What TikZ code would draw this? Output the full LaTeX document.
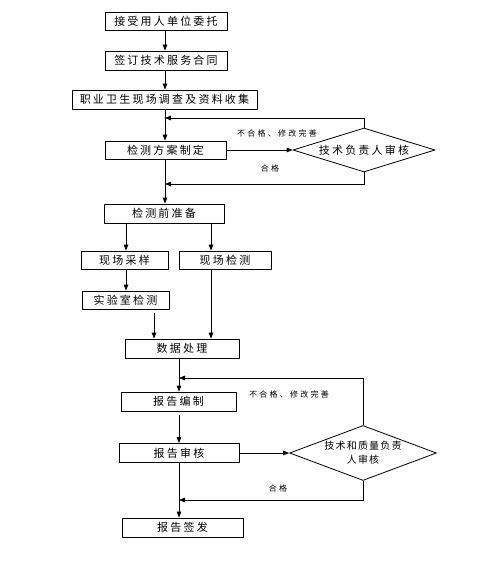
\documentclass[tikz,border=0pt]{standalone}
\usepackage{fontspec}
\newfontfamily\cjkbox[LetterSpace=20]{Noto Sans CJK SC}
\newfontfamily\cjkdia[LetterSpace=12]{Noto Sans CJK SC}
\newfontfamily\cjknote[LetterSpace=28]{Noto Sans CJK SC}
\usetikzlibrary{arrows.meta,shapes.geometric}

\tikzset{
	stepbox/.style={draw,line width=0.8pt,inner sep=0pt,font=\cjkbox\fontsize{11}{13}\selectfont},
	checkdia/.style={draw,diamond,aspect=3,line width=0.8pt,inner sep=0pt,align=center},
	arr/.style={line width=0.8pt,-{Triangle[length=6pt,width=4.5pt]}},
	note/.style={font=\cjknote\fontsize{8}{9}\selectfont}
}

\begin{document}
\begin{tikzpicture}[x=1pt,y=-1pt]
		\useasboundingbox (0,0) rectangle (477,572);
		% main column
		\node[stepbox,minimum width=122pt,minimum height=18pt] (entrust) at (166,21) {接受用人单位委托};
		\node[stepbox,minimum width=122pt,minimum height=19pt] (contract) at (166,60.5) {签订技术服务合同};
		\node[stepbox,minimum width=185pt,minimum height=19pt] (survey) at (164.5,99.5) {职业卫生现场调查及资料收集};
		\node[stepbox,minimum width=121pt,minimum height=18pt] (plan) at (165.5,150) {检测方案制定};
		\node[checkdia,minimum width=142pt,minimum height=44pt,font=\cjkbox\fontsize{11}{13}\selectfont] (techcheck) at (364,150) {技术负责人审核};
		\node[stepbox,minimum width=120pt,minimum height=19pt] (prepare) at (164,213.5) {检测前准备};
		% two branches
		\node[stepbox,minimum width=87pt,minimum height=18pt] (sampling) at (124.5,260) {现场采样};
		\node[stepbox,minimum width=92pt,minimum height=18pt] (onsite) at (225,260) {现场检测};
		\node[stepbox,minimum width=87pt,minimum height=18pt] (lab) at (125.5,300) {实验室检测};
		\node[stepbox,minimum width=114pt,minimum height=19pt] (data) at (182,348.5) {数据处理};
		% report part
		\node[stepbox,minimum width=115pt,minimum height=19pt] (draft) at (178.5,401.5) {报告编制};
		\node[stepbox,minimum width=120pt,minimum height=19pt] (review) at (179,453) {报告审核};
		\node[checkdia,minimum width=142pt,minimum height=55pt,font=\cjkdia\fontsize{10}{14}\selectfont] (qualcheck) at (363,453) {技术和质量负责\\人审核};
		\node[stepbox,minimum width=121pt,minimum height=19pt] (sign) at (182.5,527.5) {报告签发};
		% labels
		\node[note] (fail1) at (277,133) {不合格、修改完善};
		\node[note] (pass1) at (270,168) {合格};
		\node[note] (fail2) at (289,394) {不合格、修改完善};
		\node[note] (pass2) at (278,488) {合格};
		% columns and loop ends
		\coordinate (colA) at (165,118);
		\coordinate (colA2) at (165,184);
		\coordinate (colB) at (126,0);
		\coordinate (colC) at (211,0);
		\coordinate (colD) at (154,0);
		\coordinate (colE) at (179,378);
		\coordinate (colE2) at (179,500);

		\draw[arr] (entrust.south -| colA) -- (contract.north -| colA);
		\draw[arr] (contract.south -| colA) -- (survey.north -| colA);
		\draw[arr] (survey.south -| colA) -- (plan.north -| colA);
		\draw[arr] (techcheck.north) |- (colA);
		\draw[arr] (plan.east) -- (techcheck.west);
		\draw[arr] (techcheck.south) |- (colA2);
		\draw[arr] (plan.south -| colA) -- (prepare.north -| colA);
		\draw[arr] (prepare.south -| colB) -- (sampling.north -| colB);
		\draw[arr] (prepare.south -| colC) -- (onsite.north -| colC);
		\draw[arr] (sampling.south -| colB) -- (lab.north -| colB);
		\draw[arr,shorten <=4pt] (lab.south -| colD) -- (data.north -| colD);
		\draw[arr] (onsite.south -| colC) -- (data.north -| colC);
		\draw[arr] (data.south -| colE) -- (draft.north -| colE);
		\draw[arr] (qualcheck.north) |- (colE);
		\draw[arr,shorten <=4pt] (draft.south -| colE) -- (review.north -| colE);
		\draw[arr] (review.east) -- (qualcheck.west);
		\draw[arr] (qualcheck.south) |- (colE2);
		\draw[arr] (review.south -| colE) -- (sign.north -| colE);
	\end{tikzpicture}
\end{document}
